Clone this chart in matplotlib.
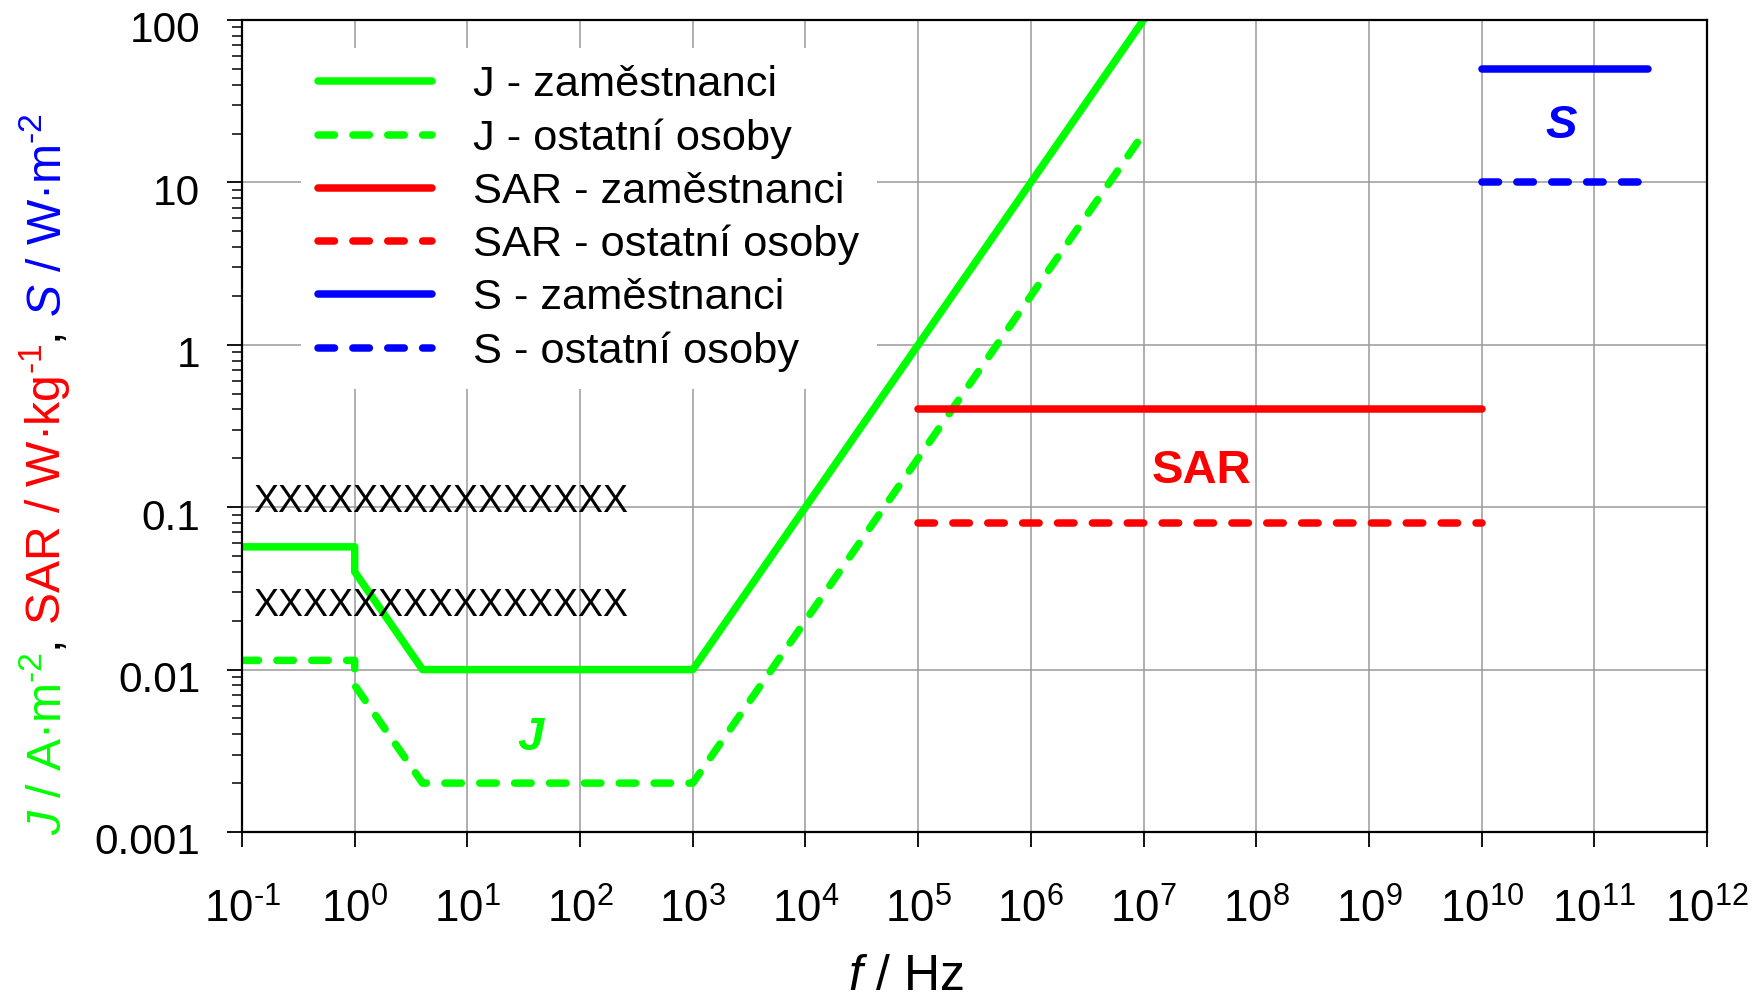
import matplotlib
matplotlib.use('Agg')
import matplotlib.pyplot as plt
from matplotlib.ticker import LogLocator, NullLocator
from matplotlib.transforms import ScaledTranslation

plt.rcParams['font.family'] = ['Liberation Sans', 'DejaVu Sans']
plt.rcParams['mathtext.fontset'] = 'custom'
plt.rcParams['mathtext.rm'] = 'Liberation Sans'
plt.rcParams['mathtext.it'] = 'Liberation Sans:italic'
plt.rcParams['mathtext.bf'] = 'Liberation Sans:bold'

# --- data ---
j_f = [0.1, 1, 1, 4, 1e3, 1e7]
j_zam = [0.057, 0.057, 0.04, 0.01, 0.01, 100]
j_ost = [0.0114, 0.0114, 0.008, 0.002, 0.002, 20]

sar_f = [1e5, 1e10]
sar_zam = [0.4, 0.4]
sar_ost = [0.08, 0.08]

s_f = [1e10, 3e11]
s_zam = [50, 50]
s_ost = [10, 10]

legend_labels = ["J - zaměstnanci", "J - ostatní osoby",
                 "SAR - zaměstnanci", "SAR - ostatní osoby",
                 "S - zaměstnanci", "S - ostatní osoby"]

x_exps = list(range(-1, 13))
y_ticks = [0.001, 0.01, 0.1, 1, 10, 100]
y_ticklabels = ["0.001", "0.01", "0.1", "1", "10", "100"]

GREEN = '#00ff00'
RED = '#ff0000'
BLUE = '#0000ff'

W, H = 1756, 999
fig = plt.figure(figsize=(W / 100, H / 100), dpi=100)
ax = fig.add_axes([242 / W, 1 - 832 / H, (1707 - 242) / W, 812 / H])

lw = 5.4
dash = (0, (2.2, 2.45))
solid_kw = dict(lw=lw, solid_capstyle='round', solid_joinstyle='round')
dash_kw = dict(lw=lw, ls=dash, dash_capstyle='round', dash_joinstyle='round')

l1, = ax.plot(j_f, j_zam, color=GREEN, **solid_kw)
l2, = ax.plot(j_f, j_ost, color=GREEN, **dash_kw)
l3, = ax.plot(sar_f, sar_zam, color=RED, **solid_kw)
l4, = ax.plot(sar_f, sar_ost, color=RED, **dash_kw)
l5, = ax.plot(s_f, s_zam, color=BLUE, **solid_kw)
l6, = ax.plot(s_f, s_ost, color=BLUE, **dash_kw)

ax.set_xscale('log')
ax.set_yscale('log')
ax.set_xlim(0.1, 1e12)
ax.set_ylim(0.001, 100)

ax.set_xticks([10.0 ** e for e in x_exps])
ax.set_xticklabels([r"$10^{\text{%d}}$" % e for e in x_exps])
ax.xaxis.set_minor_locator(NullLocator())
ax.set_yticks(y_ticks)
ax.set_yticklabels(y_ticklabels)
ax.yaxis.set_minor_locator(LogLocator(base=10, subs=range(2, 10)))
ax.yaxis.set_minor_formatter(plt.NullFormatter())

ax.tick_params(axis='both', which='major', length=11, width=1.3,
               direction='out', color='black')
ax.tick_params(axis='y', which='major', pad=19, labelsize=30.5)
ax.tick_params(axis='x', which='major', pad=30, labelsize=31.5)
ax.tick_params(axis='y', which='minor', length=7, width=1.1)
for lab in ax.get_yticklabels():
    lab.set_transform(lab.get_transform() + ScaledTranslation(0, -0.07, fig.dpi_scale_trans))

for sp in ax.spines.values():
    sp.set_linewidth(1.6)
    sp.set_color('black')

ax.grid(which='major', color='#9a9a9a', lw=1.1)
ax.set_axisbelow(True)

leg = ax.legend([l1, l2, l3, l4, l5, l6], legend_labels, loc='upper left',
                bbox_to_anchor=(301 / W, 1 - 48 / H), bbox_transform=fig.transFigure,
                borderaxespad=0, borderpad=0.4, fontsize=31.2, handlelength=2.62,
                handletextpad=0.95, labelspacing=0.3, frameon=True,
                facecolor='white', edgecolor='none', framealpha=1, fancybox=False)

# text inside the plot
ax.text(0.125, 0.093, "X" * 15, fontsize=27, ha='left', va='baseline')
ax.text(0.125, 0.0214, "X" * 15, fontsize=27, ha='left', va='baseline')
ax.text(36.6, 0.0038, "J", color=GREEN, fontsize=34, fontweight='bold',
        fontstyle='italic', ha='center', va='center')
ax.text(3.3e7, 0.166, "SAR", color=RED, fontsize=34, fontweight='bold',
        ha='center', va='center')
ax.text(5.1e10, 22.3, "S", color=BLUE, fontsize=34, fontweight='bold',
        fontstyle='italic', ha='center', va='center')

# x label
fig.text(906 / W, 1 - 977 / H, r"$f$ / Hz", fontsize=36, ha='center', va='center')

# multicoloured y label, built piece by piece from bottom to top
pieces = [(r"$J$ / A·m$^{\text{-2}}$", GREEN), (", ", 'black'),
          (r"SAR / W·kg$^{\text{-1}}$", RED), (", ", 'black'),
          (r"$S$ / W·m$^{\text{-2}}$", BLUE)]
renderer = fig.canvas.get_renderer()
x0 = 61 / W
y0 = 1 - 835 / H
for s, c in pieces:
    t = fig.text(x0, y0, s, color=c, fontsize=34.6, rotation=90,
                 rotation_mode='anchor', ha='left', va='baseline')
    bb = t.get_window_extent(renderer)
    y0 += bb.height / H

fig.savefig("out.png", dpi=100)
